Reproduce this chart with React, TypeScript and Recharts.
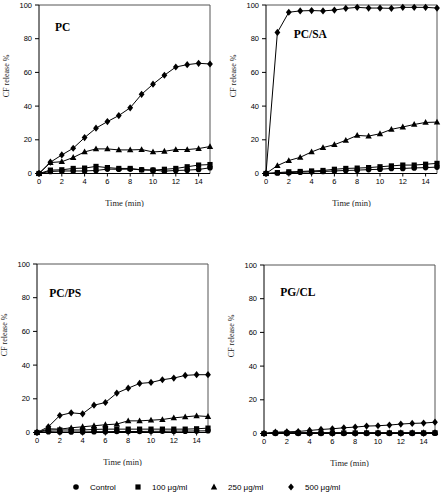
import React from 'react';
import { LineChart, Line, XAxis, YAxis, ReferenceLine } from 'recharts';

const time = [0, 1, 2, 3, 4, 5, 6, 7, 8, 9, 10, 11, 12, 13, 14, 15];
const xTicks = [0, 2, 4, 6, 8, 10, 12, 14];
const yTicks = [0, 20, 40, 60, 80, 100];
const seriesNames = ['Control', '100 μg/ml', '250 μg/ml', '500 μg/ml'];

// PC
const pcControl = [0, 1.2, 1.5, 1.5, 1.5, 1.8, 2.6, 2.5, 2.6, 2.2, 2, 1.4, 1.8, 2, 2.4, 3.4];
const pc100 = [0, 2, 2.2, 3, 3.2, 4.2, 3.5, 3, 3, 2.2, 2, 2.5, 3, 4, 5, 5.3];
const pc250 = [0, 6.5, 7, 9.5, 12.8, 14.6, 14.6, 14, 14, 14.2, 12.8, 13.2, 14.2, 14.2, 14.8, 16];
const pc500 = [0, 6.7, 11, 15, 21.3, 26.9, 30.8, 34.4, 39, 47, 53, 58.3, 63.2, 64.6, 65.4, 65];

// PC/SA
const saControl = [0, 0.3, 0.5, 0.8, 1, 1.2, 1.5, 1.8, 2, 2.3, 2.5, 3, 3, 3.3, 3.5, 3.8];
const sa100 = [0, 0.5, 1, 1.2, 1.5, 1.8, 2.5, 3, 3.2, 3.5, 4, 4.5, 5, 5, 5.5, 6];
const sa250 = [0, 4.7, 7.7, 9.6, 12.8, 15.4, 17.1, 19.7, 22.6, 22.2, 23.6, 26.2, 27.6, 29.1, 30.3, 30.5];
const sa500 = [0, 83.7, 95.7, 96.5, 96.7, 96.5, 97, 98, 98.6, 98.2, 98.2, 98, 98.6, 98.6, 98.6, 98.2];

// PC/PS
const psControl = [0, 0.5, 0.3, 0.3, 0.3, 0.5, 0.5, 0.6, 0.6, 0.6, 0.7, 0.7, 0.8, 0.8, 0.9, 1];
const ps100 = [0, 1.5, 1.5, 1.5, 1.5, 1.8, 2, 2, 2, 2, 2, 2, 2, 2, 2.2, 2.6];
const ps250 = [0, 2.2, 2, 2.8, 3.4, 4, 4.6, 5, 6.9, 6.9, 7.3, 7.7, 8.7, 9.3, 9.9, 9.5];
const ps500 = [0, 3.4, 10.1, 11.7, 11.1, 16.2, 17.8, 23.4, 26.3, 29.1, 29.7, 31.3, 32.3, 33.9, 34.3, 34.3];

// PG/CL
const clControl = [0, 0.1, 0.1, 0.1, 0.1, 0.1, 0.1, 0.1, 0.1, 0.1, 0.1, 0.1, 0.1, 0.1, 0.1, 0.2];
const cl100 = [0, 0.3, 0.3, 0.3, 0.3, 0.3, 0.3, 0.3, 0.3, 0.3, 0.3, 0.3, 0.3, 0.3, 0.3, 0.4];
const cl250 = [0, 0.5, 0.5, 0.5, 0.5, 0.5, 0.5, 0.5, 0.5, 0.5, 0.5, 0.5, 0.5, 0.5, 0.5, 0.6];
const cl500 = [0, 0.8, 1, 1.2, 1.8, 2.4, 2.8, 3.4, 3.8, 4.4, 4.6, 5, 5.6, 6, 6.2, 6.7];

type Shape = 'circle' | 'square' | 'triangle' | 'diamond';
const shapes: Shape[] = ['circle', 'square', 'triangle', 'diamond'];

const Marker = ({ cx, cy, shape }: { cx: number; cy: number; shape: Shape }) => {
  if (cx == null || cy == null) return null;
  if (shape === 'circle') return <circle cx={cx} cy={cy} r={2.8} fill="#000" />;
  if (shape === 'square') return <rect x={cx - 2.6} y={cy - 2.6} width={5.2} height={5.2} fill="#000" />;
  if (shape === 'triangle')
    return <polygon points={`${cx},${cy - 3.4} ${cx + 3.2},${cy + 2.4} ${cx - 3.2},${cy + 2.4}`} fill="#000" />;
  return <polygon points={`${cx},${cy - 3.6} ${cx + 2.9},${cy} ${cx},${cy + 3.6} ${cx - 2.9},${cy}`} fill="#000" />;
};

const build = (s: number[][]) =>
  time.map((t, i) => ({ t, s0: s[0][i], s1: s[1][i], s2: s[2][i], s3: s[3][i] }));

const panels = [
  { title: 'PC', data: build([pcControl, pc100, pc250, pc500]), left: 39, top: 5, tx: 16, ty: 26 },
  { title: 'PC/SA', data: build([saControl, sa100, sa250, sa500]), left: 265.7, top: 5, tx: 28, ty: 33 },
  { title: 'PC/PS', data: build([psControl, ps100, ps250, ps500]), left: 37.3, top: 264, tx: 12, ty: 33 },
  { title: 'PG/CL', data: build([clControl, cl100, cl250, cl500]), left: 264.3, top: 265, tx: 16, ty: 31 },
];

const tickStyle = { fontFamily: 'Liberation Sans, Arial, sans-serif', fontSize: 7.5, fill: '#000' };
const serif = 'Liberation Serif, Times New Roman, serif';

const Panel = ({ p }: { p: (typeof panels)[number] }) => (
  <div style={{ position: 'absolute', left: p.left - 39, top: p.top - 5 }}>
    <LineChart width={220} height={206.5} data={p.data} margin={{ top: 5, right: 10, bottom: 0, left: 0 }}>
      <XAxis
        dataKey="t"
        type="number"
        domain={[0, 15]}
        ticks={xTicks}
        tick={tickStyle}
        tickSize={3}
        tickMargin={2}
        height={33}
        stroke="#000"
        label={{ value: 'Time (min)', position: 'insideBottom', offset: 1, fontFamily: serif, fontSize: 8.5, fontWeight: 'normal', fill: '#222' }}
      />
      <YAxis
        type="number"
        domain={[0, 100]}
        ticks={yTicks}
        tick={tickStyle}
        tickSize={4}
        tickMargin={3}
        width={39}
        stroke="#000"
        label={{ value: 'CF release %', angle: -90, position: 'insideLeft', offset: 6.5, dy: 8, fontFamily: serif, fontSize: 8, fontWeight: 'normal', fill: '#222' }}
      />
      <ReferenceLine y={100} stroke="#555" />
      <ReferenceLine x={15} stroke="#555" />
      {shapes.map((shape, k) => (
        <Line
          key={shape}
          dataKey={`s${k}`}
          type="linear"
          stroke="#000"
          strokeWidth={1}
          isAnimationActive={false}
          dot={(d: any) => <Marker key={`${shape}-${d.index}`} cx={d.cx} cy={d.cy} shape={shape} />}
          activeDot={false}
        />
      ))}
    </LineChart>
  </div>
);

const legendX = [76, 138, 214, 291];

export default function App() {
  return (
    <div style={{ position: 'absolute', left: 0, top: 0, width: 441, height: 492, background: '#fff' }}>
      {panels.map((p) => (
        <Panel key={p.title} p={p} />
      ))}
      <svg width={441} height={492} style={{ position: 'absolute', left: 0, top: 0, pointerEvents: 'none' }}>
        {panels.map((p) => (
          <text
            key={p.title}
            x={p.left + p.tx}
            y={p.top + p.ty}
            fontFamily={serif}
            fontWeight="bold"
            fontSize={11.5}
            fill="#000"
          >
            {p.title}
          </text>
        ))}
        {seriesNames.map((name, k) => (
          <g key={name}>
            <Marker cx={legendX[k]} cy={487} shape={shapes[k]} />
            <text x={legendX[k] + 14} y={489.8} fontFamily="Liberation Sans, Arial, sans-serif" fontSize={8} fill="#000">
              {name}
            </text>
          </g>
        ))}
      </svg>
    </div>
  );
}
